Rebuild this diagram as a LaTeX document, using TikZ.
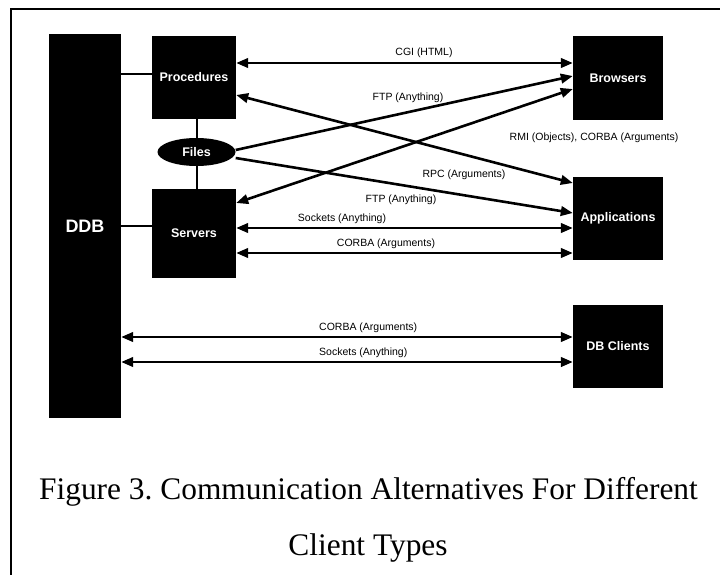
\documentclass[tikz,border=0pt]{standalone}
\usepackage{fontspec}
\setmainfont{Liberation Serif}
\newfontfamily\diagfont{Liberation Sans}
\usetikzlibrary{arrows.meta,shapes.geometric}
\frenchspacing

\begin{document}
\begin{tikzpicture}[x=1pt,y=-1pt,
  blk/.style={fill=black,draw=none,inner sep=0pt,text=white,
    font=\diagfont\bfseries\fontsize{12.5}{14}\selectfont},
  lbl/.style={inner sep=0pt,font=\diagfont\fontsize{10.5}{12}\selectfont},
  link/.style={line width=2.6pt},
  tie/.style={line width=2pt},
  tipone/.style={-{Triangle[length=12pt,width=9.5pt]}},
  tiptwo/.style={{Triangle[length=12pt,width=9.5pt]}-{Triangle[length=12pt,width=9.5pt]}},
  capt/.style={inner sep=0pt,anchor=base,font=\fontsize{31.4}{33}\selectfont}
]
\useasboundingbox (0,0) rectangle (720,575);
\fill[white] (0,0) rectangle (720,575);
% page frame (top and left edges)
\draw[line width=1.8pt] (11,575) -- (11,9) -- (720,9);

% blocks
\node[blk,minimum width=72pt,minimum height=384pt,
      font=\diagfont\bfseries\fontsize{18}{20}\selectfont] (ddb) at (85,226) {DDB};
\node[blk,minimum width=84pt,minimum height=83pt] (proc) at (194,77.5) {Procedures};
\node[blk,minimum width=84pt,minimum height=89pt] (serv) at (194,233.5) {Servers};
\node[blk,ellipse,minimum width=78pt,minimum height=28pt] (files) at (196.5,152) {Files};
\node[blk,minimum width=90pt,minimum height=84pt] (brow) at (618,78) {Browsers};
\node[blk,minimum width=90pt,minimum height=83pt] (app) at (618,218.5) {Applications};
\node[blk,minimum width=90pt,minimum height=83pt] (dbc) at (618,346.5) {DB Clients};

% plain ties
\draw[tie] (ddb.east |- 0,74) -- (proc.west |- 0,74);
\draw[tie] (ddb.east |- 0,226) -- (serv.west |- 0,226);
\draw[tie] (files.north) -- (files.north |- proc.south);
\draw[tie] (files.south) -- (files.south |- serv.north);

% communication links
\draw[link,tiptwo] (proc.east |- 0,63) -- (brow.west |- 0,63);
\draw[link,tipone] (files.east |- 0,150) -- (brow.west |- 0,76);
\draw[link,tiptwo] (proc.east |- 0,95) -- (app.west |- 0,183);
\draw[link,tiptwo] (serv.east |- 0,203) -- (brow.west |- 0,89);
\draw[link,tipone] (files.east |- 0,158) -- (app.west |- 0,213);
\draw[link,tiptwo] (serv.east |- 0,228) -- (app.west |- 0,228);
\draw[link,tiptwo] (serv.east |- 0,253) -- (app.west |- 0,253);
\draw[link,tiptwo] (ddb.east |- 0,337) -- (dbc.west |- 0,337);
\draw[link,tiptwo] (ddb.east |- 0,362) -- (dbc.west |- 0,362);

% link labels
\node[lbl] (lcgi) at (424,53) {CGI (HTML)};
\node[lbl] (lftpa) at (408,98) {FTP (Anything)};
\node[lbl] (lrmi) at (594,138) {RMI (Objects), CORBA (Arguments)};
\node[lbl] (lrpc) at (464,175) {RPC (Arguments)};
\node[lbl] (lftpb) at (401,200) {FTP (Anything)};
\node[lbl] (lsoca) at (342,219) {Sockets (Anything)};
\node[lbl] (lcora) at (386,244) {CORBA (Arguments)};
\node[lbl,anchor=west] (lcorb) at (319,328) {CORBA (Arguments)};
\node[lbl,anchor=west] (lsocb) at (319,353) {Sockets (Anything)};

% caption
\node[capt] (cap1) at (368.5,499) {Figure 3. Communication Alternatives For Different};
\node[capt] (cap2) at (368,555) {Client Types};
\end{tikzpicture}
\end{document}
